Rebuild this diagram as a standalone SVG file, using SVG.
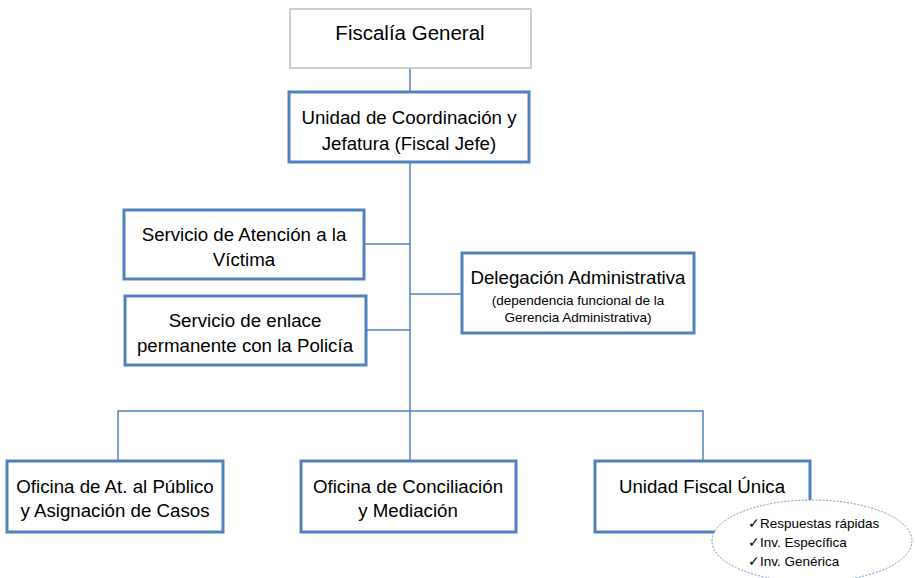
<svg xmlns="http://www.w3.org/2000/svg" width="915" height="578" viewBox="0 0 915 578">
<style>
.box{fill:#fff;stroke:#4f81bd;stroke-width:3}
.gbox{fill:#fff;stroke:#bfbfbf;stroke-width:1.5}
.ln{stroke:#4f81bd;stroke-width:1.5;fill:none}
text{font-family:"Liberation Sans",Arial,sans-serif;fill:#000;text-anchor:middle}
.t{font-size:18.7px}
.s{font-size:13.5px}
.e{font-size:13.5px;text-anchor:start}
</style>
<rect width="915" height="578" fill="#fff"/>
<g id="connectors">
<line class="ln" x1="410" y1="68" x2="410" y2="92"/>
<line class="ln" x1="410" y1="162" x2="410" y2="411"/>
<line class="ln" x1="364" y1="244" x2="410" y2="244"/>
<line class="ln" x1="366" y1="330" x2="410" y2="330"/>
<line class="ln" x1="410" y1="294" x2="462" y2="294"/>
<polyline class="ln" points="118,461 118,411 703,411 703,461"/>
<line class="ln" x1="410" y1="411" x2="410" y2="461"/>
</g>
<g id="fiscalia">
<rect class="gbox" x="290" y="9" width="241" height="59"/>
<text x="410" y="40" style="font-size:20.5px">Fiscalía General</text>
</g>
<g id="unidad">
<rect class="box" x="289" y="92" width="240" height="70"/>
<text class="t" x="409" y="124">Unidad de Coordinación y</text>
<text class="t" x="409" y="150">Jefatura (Fiscal Jefe)</text>
</g>
<g id="atencion">
<rect class="box" x="124" y="210" width="240" height="69"/>
<text class="t" x="244" y="241">Servicio de Atención a la</text>
<text class="t" x="244" y="266">Víctima</text>
</g>
<g id="enlace">
<rect class="box" x="125" y="296" width="241" height="69"/>
<text class="t" x="245" y="327">Servicio de enlace</text>
<text class="t" x="245" y="352">permanente con la Policía</text>
</g>
<g id="delegacion">
<rect class="box" x="462" y="253" width="232" height="80"/>
<text class="t" x="578" y="284">Delegación Administrativa</text>
<text class="s" x="578" y="305">(dependencia funcional de la</text>
<text class="s" x="578" y="322">Gerencia Administrativa)</text>
</g>
<g id="oficina-publico">
<rect class="box" x="7" y="461" width="216" height="71"/>
<text class="t" x="115" y="493">Oficina de At. al Público</text>
<text class="t" x="115" y="517">y Asignación de Casos</text>
</g>
<g id="oficina-conciliacion">
<rect class="box" x="301" y="461" width="215" height="71"/>
<text class="t" x="408" y="493">Oficina de Conciliación</text>
<text class="t" x="408" y="517">y Mediación</text>
</g>
<g id="unidad-fiscal">
<rect class="box" x="595" y="461" width="215" height="71"/>
<text class="t" x="702" y="493">Unidad Fiscal Única</text>
</g>
<g id="ufu-notas">
<ellipse cx="812" cy="541" rx="100" ry="41" fill="#fff" stroke="#6c97cc" stroke-width="1" stroke-dasharray="2,1.5"/>
<text class="e" x="748" y="528">✓Respuestas rápidas</text>
<text class="e" x="748" y="547">✓Inv. Específica</text>
<text class="e" x="748" y="566">✓Inv. Genérica</text>
</g>
</svg>
